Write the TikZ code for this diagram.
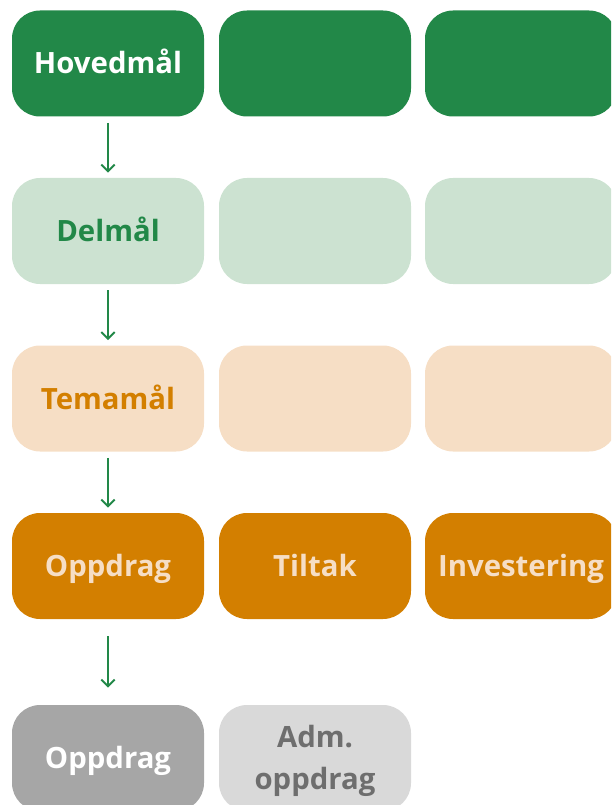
\documentclass[tikz,border=0pt]{standalone}
\usepackage{fontspec}
\setmainfont{Open Sans}
\usetikzlibrary{arrows.meta}
\definecolor{dkgreen}{RGB}{34,136,72}
\definecolor{ltgreen}{RGB}{204,226,209}
\definecolor{peach}{RGB}{246,222,197}
\definecolor{orng}{RGB}{211,127,0}
\definecolor{gry}{RGB}{166,166,166}
\definecolor{ltgry}{RGB}{217,217,217}
\definecolor{admtext}{RGB}{110,110,110}
\tikzset{
  boxbase/.style={rectangle, rounded corners=21pt, minimum width=144pt, minimum height=79.5pt,
    inner sep=0pt, align=center, font=\fontsize{22}{32}\selectfont\bfseries},
  box/.style={boxbase, text height=15.75pt, text depth=0pt},
  hoved/.style={box, fill=dkgreen, text=white},
  del/.style={box, fill=ltgreen, text=dkgreen},
  tema/.style={box, fill=peach, text=orng},
  oppd/.style={box, fill=orng, text=peach},
  grybox/.style={box, fill=gry, text=white},
  ltgrybox/.style={boxbase, text height=47.75pt, text depth=0pt, fill=ltgry, text=admtext},
  flow/.style={draw=dkgreen, line width=1.5pt, -{Straight Barb[length=5pt,width=10pt,line width=1.5pt]}}
}
\begin{document}
\begin{tikzpicture}[x=0.75pt,y=-0.75pt]
\useasboundingbox (0,0) rectangle (611,805);
\clip (0,0) rectangle (611,805);
% row 1
\node[hoved] (h1) at (108,63.5) {Hovedmål};
\node[hoved] (h2) at (315,63.5) {};
\node[hoved] (h3) at (521,63.5) {};
% row 2
\node[del] (d1) at (108,231) {Delmål};
\node[del] (d2) at (315,231) {};
\node[del] (d3) at (521,231) {};
% row 3
\node[tema] (t1) at (108,398.5) {Temamål};
\node[tema] (t2) at (315,398.5) {};
\node[tema] (t3) at (521,398.5) {};
% row 4
\node[oppd] (o1) at (108,566) {Oppdrag};
\node[oppd] (o2) at (315,566) {Tiltak};
\node[oppd] (o3) at (521,566) {Investering};
% row 5
\node[grybox] (g1) at (108,758) {Oppdrag};
\node[ltgrybox] (g2) at (315,758) {Adm.\\oppdrag};
% arrows
\draw[flow, shorten <=4.5pt, shorten >=3.75pt] (h1.south) -- (d1.north);
\draw[flow, shorten <=4.5pt, shorten >=3.75pt] (d1.south) -- (t1.north);
\draw[flow, shorten <=4.5pt, shorten >=3.75pt] (t1.south) -- (o1.north);
\draw[flow, shorten <=12.75pt, shorten >=12.75pt] (o1.south) -- (g1.north);
\end{tikzpicture}
\end{document}
